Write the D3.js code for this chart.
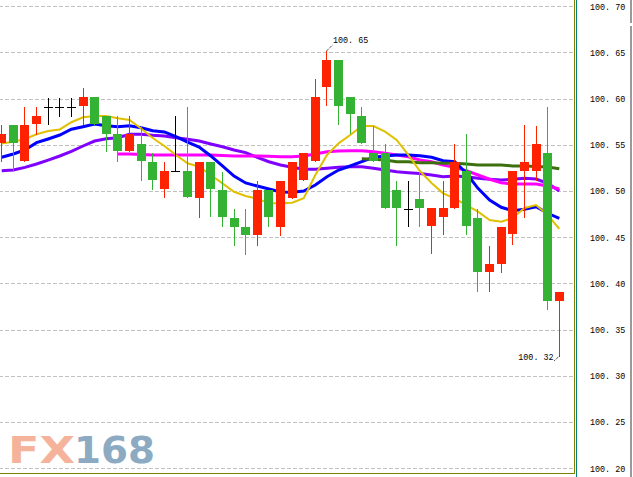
<!DOCTYPE html>
<html><head><meta charset="utf-8">
<script src="https://cdn.jsdelivr.net/npm/d3@7/dist/d3.min.js"></script>
<style>html,body{margin:0;padding:0;background:#fff;overflow:hidden}</style>
</head><body>
<script>
// ---------- data ----------
const bars = d3.range(49); // candle index (time slots)
const open  = [100.552,100.571,100.532,100.572,100.591,100.591,100.591,100.592,100.602,100.581,100.562,100.543,100.551,100.531,100.502,100.522,100.522,100.492,100.531,100.501,100.471,100.461,100.452,100.501,100.461,100.492,100.512,100.533,100.613,100.642,100.602,100.581,100.541,100.541,100.501,100.481,100.491,100.462,100.472,100.482,100.522,100.471,100.412,100.421,100.453,100.522,100.522,100.541,100.381];
const high  = [100.571,100.571,100.591,100.591,100.601,100.601,100.601,100.611,100.602,100.581,100.581,100.581,100.570,100.541,100.531,100.581,100.591,100.531,100.531,100.521,100.481,100.481,100.511,100.501,100.511,100.531,100.541,100.621,100.651,100.642,100.602,100.591,100.570,100.551,100.511,100.511,100.521,100.482,100.511,100.551,100.562,100.481,100.441,100.461,100.522,100.571,100.570,100.591,100.391];
const low   = [100.533,100.523,100.532,100.562,100.572,100.581,100.581,100.573,100.573,100.543,100.533,100.543,100.512,100.502,100.493,100.522,100.493,100.472,100.473,100.462,100.442,100.432,100.442,100.462,100.452,100.492,100.512,100.533,100.593,100.573,100.563,100.552,100.532,100.482,100.442,100.462,100.462,100.433,100.453,100.482,100.453,100.392,100.392,100.412,100.443,100.472,100.512,100.372,100.321];
const close = [100.562,100.552,100.571,100.581,100.591,100.591,100.591,100.602,100.573,100.562,100.543,100.562,100.532,100.512,100.522,100.522,100.493,100.531,100.502,100.472,100.461,100.452,100.501,100.472,100.511,100.531,100.541,100.602,100.642,100.592,100.583,100.552,100.532,100.482,100.482,100.481,100.482,100.482,100.482,100.531,100.462,100.412,100.421,100.461,100.522,100.531,100.551,100.381,100.391];

const maYellow = [100.5514,100.5534,100.5563,100.5614,100.5649,100.5666,100.5744,100.5798,100.5812,100.5812,100.5787,100.5768,100.5676,100.5574,100.5487,100.5390,100.5300,100.5263,100.5173,100.5083,100.4992,100.4946,100.4917,100.4867,100.4867,100.4873,100.4921,100.5173,100.5390,100.5516,100.5606,100.5703,100.5703,100.5642,100.5552,100.5390,100.5216,100.5087,100.4975,100.4921,100.4848,100.4776,100.4686,100.4668,100.4708,100.4816,100.4848,100.4740,100.4589];
const maBlue   = [100.5365,100.5400,100.5444,100.5523,100.5563,100.5606,100.5668,100.5696,100.5725,100.5707,100.5696,100.5707,100.5685,100.5653,100.5639,100.5588,100.5530,100.5476,100.5379,100.5271,100.5162,100.5087,100.5054,100.5022,100.4989,100.4986,100.5000,100.5065,100.5155,100.5227,100.5271,100.5317,100.5365,100.5379,100.5390,100.5390,100.5382,100.5365,100.5328,100.5317,100.5192,100.5029,100.4903,100.4824,100.4787,100.4802,100.4830,100.4759,100.4705];
const maPurple = [100.5220,100.5227,100.5256,100.5292,100.5335,100.5379,100.5430,100.5487,100.5541,100.5566,100.5577,100.5614,100.5614,100.5603,100.5595,100.5577,100.5560,100.5541,100.5509,100.5479,100.5444,100.5415,100.5365,100.5317,100.5281,100.5256,100.5235,100.5235,100.5246,100.5256,100.5263,100.5263,100.5246,100.5227,100.5209,100.5198,100.5189,100.5173,100.5155,100.5162,100.5155,100.5137,100.5127,100.5119,100.5127,100.5137,100.5130,100.5083,100.5000];
const maMagenta = [null,null,null,null,null,null,null,null,null,null,100.5400,100.5400,100.5395,100.5390,100.5390,100.5390,100.5390,100.5390,100.5390,100.5384,100.5379,100.5379,100.5379,100.5376,100.5371,100.5371,100.5379,100.5400,100.5425,100.5433,100.5436,100.5436,100.5425,100.5408,100.5390,100.5371,100.5335,100.5317,100.5281,100.5256,100.5220,100.5173,100.5127,100.5090,100.5076,100.5076,100.5076,100.5054,100.5022];
const maDkGreen = [null,null,null,null,null,null,null,null,null,null,null,null,null,null,null,null,null,null,null,null,null,null,null,null,null,null,null,null,null,null,null,100.5350,100.5343,100.5335,100.5317,100.5317,100.5306,100.5306,100.5300,100.5300,100.5292,100.5281,100.5281,100.5281,100.5271,100.5271,100.5265,100.5260,100.5241];

const tickValues = [100.20,100.25,100.30,100.35,100.40,100.45,100.50,100.55,100.60,100.65,100.70];

// ---------- layout ----------
const W = 633, H = 477;
const plotRight = 574;
const fmt = v => d3.format(".2f")(v).replace(".", ". ");

const svg = d3.select("body").append("svg").attr("width", W).attr("height", H)
  .style("display","block").style("background","#fff");

const x = d3.scalePoint().domain(bars).range([1.7, 559.3]);
const y = d3.scaleLinear().domain([100.20, 100.70]).range([468.2, 6.2]);

svg.append("defs").append("clipPath").attr("id","plot")
  .append("rect").attr("x",0).attr("y",0).attr("width",plotRight).attr("height",473);

// watermark
const wm = svg.append("g").style("font-family","'DejaVu Sans', Verdana, sans-serif").style("font-weight","bold").style("font-size","38px");
wm.append("text").attr("x",8).attr("y",462.5).attr("textLength",67).attr("lengthAdjust","spacingAndGlyphs")
  .attr("fill","#f5b39b").text("FX");
wm.append("text").attr("x",74).attr("y",462.5).attr("textLength",81).attr("lengthAdjust","spacingAndGlyphs")
  .attr("fill","#8caac1").text("168");

// gridlines via axis
const grid = svg.append("g").attr("transform",`translate(${plotRight-1},0.5)`)
  .call(d3.axisLeft(y).tickValues(tickValues).tickSize(plotRight-1).tickFormat(""));
grid.select(".domain").remove();
grid.selectAll(".tick line").attr("stroke","#c0c0c0").attr("stroke-dasharray","4,2")
  .attr("shape-rendering","crispEdges");
grid.selectAll(".tick").attr("transform", d => `translate(0,${Math.round(y(d))})`);

// right axis labels
const ax = svg.append("g").attr("transform","translate(590,0)")
  .call(d3.axisRight(y).tickValues(tickValues).tickSize(0).tickPadding(0).tickFormat(fmt));
ax.select(".domain").remove();
ax.selectAll("text").attr("fill","#000").style("font-family","'Liberation Mono', 'DejaVu Sans Mono', monospace")
  .style("font-size","8.4px").attr("dy","0.34em");

// plot group
const g = svg.append("g").attr("clip-path","url(#plot)");

const line = arr => d3.line().defined(d => d != null).x((d,i) => x(i)).y(d => y(d))(arr);
const lines = [
  {data: maPurple, color: "#8000ff", w: 3},
  {data: maMagenta, color: "#ff00ff", w: 3},
  {data: maBlue, color: "#0000ff", w: 3},
  {data: maDkGreen, color: "#3c700f", w: 3},
  {data: maYellow, color: "#e0c000", w: 2}
];
g.selectAll("path.ma").data(lines).join("path").attr("class","ma")
  .attr("d", d => line(d.data)).attr("fill","none")
  .attr("stroke", d => d.color).attr("stroke-width", d => d.w);

// candles
const RED = "#ff2200", GREEN = "#33b233";
const cg = g.append("g").attr("shape-rendering","crispEdges");
bars.forEach(i => {
  const o = open[i], c = close[i], h = high[i], l = low[i];
  const cx = Math.floor(x(i));
  const col = c > o ? RED : (c < o ? GREEN : "#000");
  cg.append("line").attr("x1",cx+0.5).attr("x2",cx+0.5)
    .attr("y1",Math.round(y(h))).attr("y2",Math.round(y(l))+1)
    .attr("stroke",col).attr("stroke-width",1);
  if (c === o) {
    const yy = Math.round(y(o)) + 0.5;
    cg.append("line").attr("x1",cx-4).attr("x2",cx+5).attr("y1",yy).attr("y2",yy)
      .attr("stroke","#000").attr("stroke-width",1);
  } else {
    const yt = Math.round(y(Math.max(o,c))), yb = Math.round(y(Math.min(o,c)));
    cg.append("rect").attr("x",cx-4).attr("width",9)
      .attr("y",yt).attr("height",Math.max(1,yb-yt)).attr("fill",col);
  }
});

// annotations for max high and min low
const iMax = d3.maxIndex(high), iMin = d3.minIndex(low);
const ann = svg.append("g").style("font-family","'Liberation Mono', 'DejaVu Sans Mono', monospace")
  .style("font-size","8.4px").attr("fill","#000");
const hx = Math.floor(x(iMax)) + 0.5, hy = Math.round(y(high[iMax]));
ann.append("line").attr("x1",hx).attr("y1",hy).attr("x2",hx+6).attr("y2",hy-6)
  .attr("stroke","#000").attr("stroke-dasharray","1,1");
ann.append("text").attr("x",hx+6.5).attr("y",hy-8).text(fmt(high[iMax]));
const lx = Math.floor(x(iMin)) + 0.5, ly = Math.round(y(low[iMin]));
ann.append("line").attr("x1",lx).attr("y1",ly).attr("x2",lx-5.5).attr("y2",ly+5)
  .attr("stroke","#000").attr("stroke-dasharray","1,1");
ann.append("text").attr("x",lx-6).attr("y",ly+3.5).attr("text-anchor","end").text(fmt(low[iMin]));

// borders
const b = svg.append("g").attr("shape-rendering","crispEdges");
b.append("line").attr("x1",574.5).attr("x2",574.5).attr("y1",0).attr("y2",474).attr("stroke","#808000");
b.append("line").attr("x1",0).attr("x2",575).attr("y1",473.5).attr("y2",473.5).attr("stroke","#808000");
b.append("line").attr("x1",576.5).attr("x2",576.5).attr("y1",0).attr("y2",477).attr("stroke","#008080");
b.append("line").attr("x1",630.5).attr("x2",630.5).attr("y1",0).attr("y2",23).attr("stroke","#9a9a9a").attr("stroke-width",2);
b.append("line").attr("x1",630.5).attr("x2",630.5).attr("y1",26).attr("y2",477).attr("stroke","#9a9a9a").attr("stroke-width",2);
</script>
</body></html>
